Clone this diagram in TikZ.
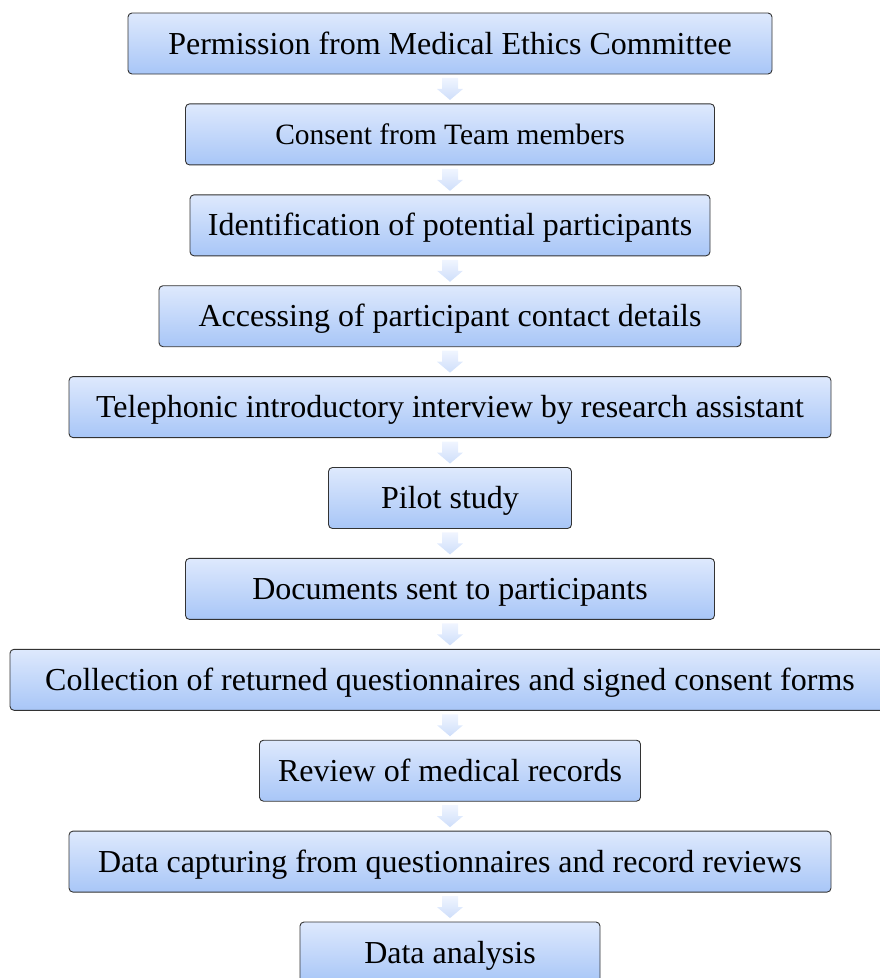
\documentclass[tikz,border=0pt]{standalone}
\usepackage{fontspec}
\setmainfont{Liberation Serif}
\usetikzlibrary{positioning,calc}

\definecolor{boxtop}{RGB}{222,233,253}
\definecolor{boxbot}{RGB}{168,198,247}
\definecolor{arrtop}{RGB}{240,245,255}
\definecolor{arrbot}{RGB}{206,222,250}

\tikzset{
  stage/.style={draw=black!80, line width=0.9pt, rounded corners=4pt,
    top color=boxtop, bottom color=boxbot, minimum height=61pt,
    inner sep=0pt, text height=21pt, text depth=0pt,
    font=\fontsize{32}{38}\selectfont},
  small/.style={font=\fontsize{29.5}{35}\selectfont, text height=19.5pt},
  flowarrow/.style={top color=arrtop, bottom color=arrbot, draw=none}
}

% block arrow half way between two stages
\newcommand{\flowdown}[2]{%
  \shade[flowarrow] ($(#1.south)!0.5!(#2.north)$)
    +(-8pt,11pt) -- +(8pt,11pt) -- +(8pt,0pt) -- +(13pt,0pt)
    -- +(0pt,-11pt) -- +(-13pt,0pt) -- +(-8pt,0pt) -- cycle;}

\begin{document}
\begin{tikzpicture}[node distance=90.9pt,on grid]
\useasboundingbox (0,0) rectangle (879pt,-978pt);

\node[stage, minimum width=644pt] (perm) at (450pt,-43.5pt) {Permission from Medical Ethics Committee};
\node[stage, small, minimum width=529pt] (consent) [below=of perm] {Consent from Team members};
\node[stage, minimum width=520pt] (ident) [below=of consent] {Identification of potential participants};
\node[stage, minimum width=582pt] (access) [below=of ident] {Accessing of participant contact details};
\node[stage, minimum width=762pt] (phone) [below=of access] {Telephonic introductory interview by research assistant};
\node[stage, minimum width=243pt] (pilot) [below=of phone] {Pilot study};
\node[stage, minimum width=529pt] (docs) [below=of pilot] {Documents sent to participants};
\node[stage, minimum width=880pt] (collect) [below=of docs] {Collection of returned questionnaires and signed consent forms};
\node[stage, minimum width=381pt] (review) [below=of collect] {Review of medical records};
\node[stage, minimum width=762pt] (capture) [below=of review] {Data capturing from questionnaires and record reviews};
\node[stage, minimum width=300pt] (analysis) [below=of capture] {Data analysis};

\foreach \a/\b in {perm/consent,consent/ident,ident/access,access/phone,phone/pilot,
  pilot/docs,docs/collect,collect/review,review/capture,capture/analysis}
  {\flowdown{\a}{\b}}
\end{tikzpicture}
\end{document}
